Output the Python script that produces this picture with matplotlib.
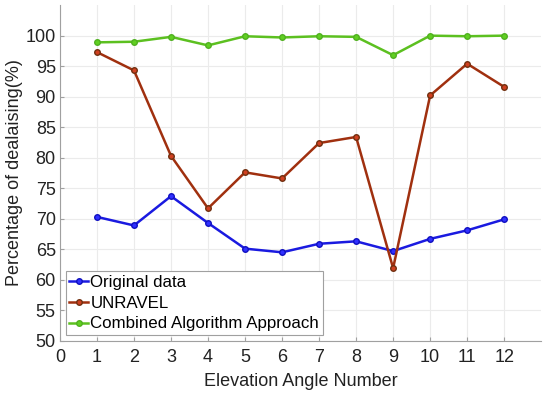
import numpy as np
import matplotlib.pyplot as plt

plt.rcParams['font.family'] = ['Liberation Sans', 'DejaVu Sans']

# data
angles = [1, 2, 3, 4, 5, 6, 7, 8, 9, 10, 11, 12]
original = [70.3, 68.9, 73.7, 69.3, 65.1, 64.5, 65.9, 66.3, 64.7, 66.7, 68.1, 69.9]
unravel = [97.3, 94.3, 80.3, 71.7, 77.6, 76.6, 82.4, 83.4, 61.9, 90.2, 95.4, 91.6]
combined = [98.9, 99.0, 99.8, 98.4, 99.9, 99.7, 99.9, 99.8, 96.8, 100.0, 99.9, 100.0]

fig = plt.figure(figsize=(5.5, 3.94), dpi=100)
ax = fig.add_axes([0.109, 0.135, 0.875, 0.852])

ax.plot(angles, original, '-o', color='#1a1ae0', lw=1.8, ms=4,
        mfc='#3030ff', mec='#1010c0', label='Original data')
ax.plot(angles, unravel, '-o', color='#a0300f', lw=1.8, ms=4,
        mfc='#d04020', mec='#703010', label='UNRAVEL')
ax.plot(angles, combined, '-o', color='#5cc020', lw=1.8, ms=4,
        mfc='#60d020', mec='#50b020', label='Combined Algorithm Approach')

ax.set_xlim(0, 13)
ax.set_ylim(50, 105)
ax.set_xticks(range(0, 13))
ax.set_yticks(range(50, 101, 5))
ax.grid(True, color='#ebebeb', lw=0.8)
ax.set_axisbelow(True)
for s in ['top', 'right']:
    ax.spines[s].set_visible(False)
for s in ['left', 'bottom']:
    ax.spines[s].set_color('#a0a0a0')
ax.tick_params(direction='in', length=3, color='#a0a0a0', labelsize=13,
               labelcolor='#222222', pad=3)
ax.tick_params(axis='x', pad=6)
ax.set_xlabel('Elevation Angle Number', fontsize=13, color='#222222', labelpad=5)
ax.set_ylabel('Percentage of dealaising(%)', fontsize=13, color='#222222', labelpad=2)

leg = ax.legend(loc='lower left', fontsize=12.2, handlelength=1.1, handletextpad=0.15,
                borderaxespad=0.35, borderpad=0.2, labelspacing=0.35, fancybox=False,
                framealpha=1)
leg.get_frame().set_edgecolor('#a0a0a0')
leg.get_frame().set_linewidth(0.8)

plt.savefig('out.png', dpi=100)
